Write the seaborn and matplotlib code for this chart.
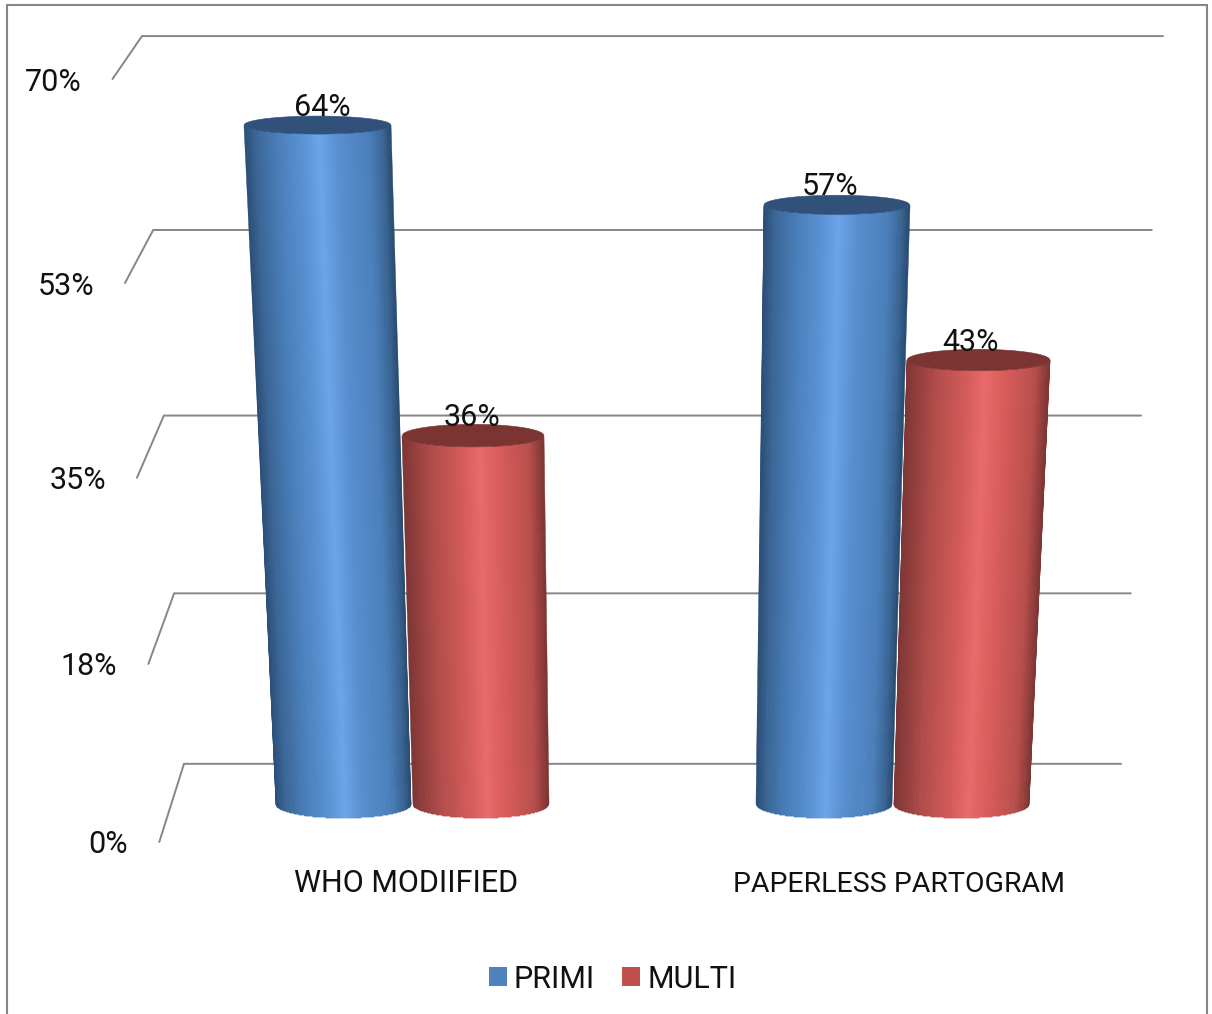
import numpy as np
import pandas as pd
import matplotlib
matplotlib.use("Agg")
import matplotlib.pyplot as plt
from matplotlib.patches import Patch, Polygon
import seaborn as sns

# Chart values
categories = ["WHO MODIIFIED", "PAPERLESS PARTOGRAM"]
series_names = ["PRIMI", "MULTI"]
primi_values = [64, 57]
multi_values = [36, 43]
value_labels = {"PRIMI": ["64%", "57%"], "MULTI": ["36%", "43%"]}
tick_values = [0, 17.5, 35, 52.5, 70]
tick_labels = ["0%", "18%", "35%", "53%", "70%"]

# Perspective set-up: all verticals meet at one vanishing point, and each
# depth plane has its own reciprocal-linear mapping of value to screen height.
VANISH_X, VANISH_Y, REF_DIST = 652.5, 8884.0, 8120.0
PLANES = {
    "wall": (1.2315e-4, 1.447e-7),
    "bars": (1.23762e-4, 1.4989e-7),
    "front": (1.24347e-4, 1.5393e-7),
}
UNITS_PER_CATEGORY = 483.0
WALL_HALF = 468.5
FRONT_HALF = 498.0
GREY = "#868686"


def project_y(value, plane):
    a, k = PLANES[plane]
    return VANISH_Y - 1.0 / (a - k * np.asarray(value, dtype=float))


def project_x(u, y):
    return VANISH_X + np.asarray(u, dtype=float) * (VANISH_Y - np.asarray(y, dtype=float)) / REF_DIST


def rim_height(y):
    return 9.0 + (np.asarray(y, dtype=float) - 125.0) * 0.00735


def shade(stops, t):
    pos = [s[0] for s in stops]
    rgb = np.array([matplotlib.colors.to_rgb(s[1]) for s in stops])
    return np.column_stack([np.interp(t, pos, rgb[:, i]) for i in range(3)])


BODY_STOPS = {
    "PRIMI": [(-1, "#2a4d75"), (-0.85, "#3a6596"), (-0.55, "#4a7eb9"),
              (-0.2, "#5a92d4"), (0.03, "#6ca5ea"), (0.3, "#588ecf"),
              (0.7, "#4c80bc"), (0.9, "#3a6594"), (1, "#2a4d72")],
    "MULTI": [(-1, "#7d3635"), (-0.6, "#b04c4a"), (-0.2, "#d05a58"),
              (0.1, "#e96a6a"), (0.4, "#d65c5a"), (0.8, "#b84f4d"), (1, "#7e3634")],
}
CAP_COLORS = {"PRIMI": "#31517a", "MULTI": "#7a3432"}
SWATCH_COLORS = {"PRIMI": "#4f81bd", "MULTI": "#c0504d"}

sns.set_theme(style="white")
plt.rcParams["font.family"] = ["Roboto", "DejaVu Sans"]
FONT_SIZE = 22
TEXT_COLOR = "#111111"

fig = plt.figure(figsize=(12.12, 10.14), dpi=100, facecolor="white")

# Screen-space canvas that receives the projected drawing
ax = fig.add_axes([0, 0, 1, 1])
ax.set_xlim(0, 1212)
ax.set_ylim(1014, 0)
ax.axis("off")

# Seaborn lays out the grouped bars; their geometry feeds the projection
table = pd.DataFrame({
    "category": categories * 2,
    "series": [series_names[0]] * 2 + [series_names[1]] * 2,
    "value": primi_values + multi_values,
})
layout_ax = fig.add_axes([0, 0, 0.1, 0.1])
sns.barplot(data=table, x="category", y="value", hue="series", hue_order=series_names,
            order=categories, palette=SWATCH_COLORS, width=0.572, gap=0.015,
            legend=False, errorbar=None, ax=layout_ax)
layout_ax.set_visible(False)

# Outer frame, open at the bottom edge
ax.plot([6.5, 6.5, 1206.5, 1206.5], [1020, 4.5, 4.5, 1020], color=GREY, lw=1.5,
        solid_joinstyle="miter", zorder=1)

# Gridlines on the back wall with their slanted ticks and labels
for value, label in zip(tick_values, tick_labels):
    wall_y = float(project_y(value, "wall"))
    front_y = float(project_y(value, "front"))
    xs = [project_x(WALL_HALF, wall_y), project_x(-WALL_HALF, wall_y), project_x(-FRONT_HALF, front_y)]
    ax.plot(xs, [wall_y, wall_y, front_y], color=GREY, lw=1.4, zorder=2,
            solid_joinstyle="miter")
    ax.text(xs[2] - 31, front_y, label, ha="right", va="center_baseline",
            fontsize=FONT_SIZE, color=TEXT_COLOR, zorder=6)

# Cylinders: shaded body mesh, curved base and a flat dark cap
t = np.linspace(-1, 1, 361)
label_nudges = {"PRIMI": [5, -7], "MULTI": [-1, -8]}
for series, container in zip(series_names, layout_ax.containers):
    for i, rect in enumerate(container):
        value = rect.get_height()
        u_mid = (rect.get_x() + rect.get_width() / 2 - 0.5) * UNITS_PER_CATEGORY
        half = rect.get_width() / 2 * UNITS_PER_CATEGORY
        y_top = float(project_y(value, "bars"))
        y_base = float(project_y(0, "bars"))

        rows = np.array([y_top, y_base])
        bulge = np.sqrt(np.clip(1 - t ** 2, 0, 1))
        Y = np.vstack([rows[0] + rim_height(rows[0]) * bulge,
                       rows[1] + rim_height(rows[1]) * bulge])
        X = np.vstack([project_x(u_mid + t * half, rows[0]),
                       project_x(u_mid + t * half, rows[1])])
        mids = (t[:-1] + t[1:]) / 2
        colors = shade(BODY_STOPS[series], mids)[np.newaxis, :, :]
        ax.pcolormesh(X, Y, colors, shading="flat", zorder=3, antialiased=True,
                      edgecolors="face", linewidth=0.35)

        cap_x = project_x(u_mid + t * half, y_top)
        cap_r = rim_height(y_top)
        cap = np.column_stack([np.r_[cap_x, cap_x[::-1]],
                               np.r_[y_top - cap_r * bulge, (y_top + cap_r * bulge)[::-1]]])
        ax.add_patch(Polygon(cap, closed=True, facecolor=CAP_COLORS[series],
                             edgecolor=CAP_COLORS[series], lw=0.4, zorder=4))

        ax.text(project_x(u_mid, y_top) + label_nudges[series][i], y_top - 21,
                value_labels[series][i], ha="center", va="center_baseline",
                fontsize=FONT_SIZE, color=TEXT_COLOR, zorder=6)

# Category names under the groups; the longer name is set slightly tighter
category_sizes = [FONT_SIZE, 20.5]
for pos, name, size in zip(layout_ax.get_xticks(), categories, category_sizes):
    u = (pos - 0.5) * 500.0
    ax.text(project_x(u, 881), 881, name, ha="center", va="center_baseline",
            fontsize=size, color=TEXT_COLOR, zorder=6)

# Legend along the bottom
handles = [Patch(facecolor=SWATCH_COLORS[s], edgecolor="none", label=s) for s in series_names]
legend = ax.legend(handles=handles, ncols=2, frameon=False, fontsize=FONT_SIZE,
                   loc="center", bbox_to_anchor=(612.5, 979), bbox_transform=ax.transData,
                   handlelength=0.59, handleheight=0.59, handletextpad=0.225,
                   columnspacing=0.9, borderpad=0, borderaxespad=0, labelcolor=TEXT_COLOR)

fig.savefig("out.png", dpi=100, facecolor="white")
